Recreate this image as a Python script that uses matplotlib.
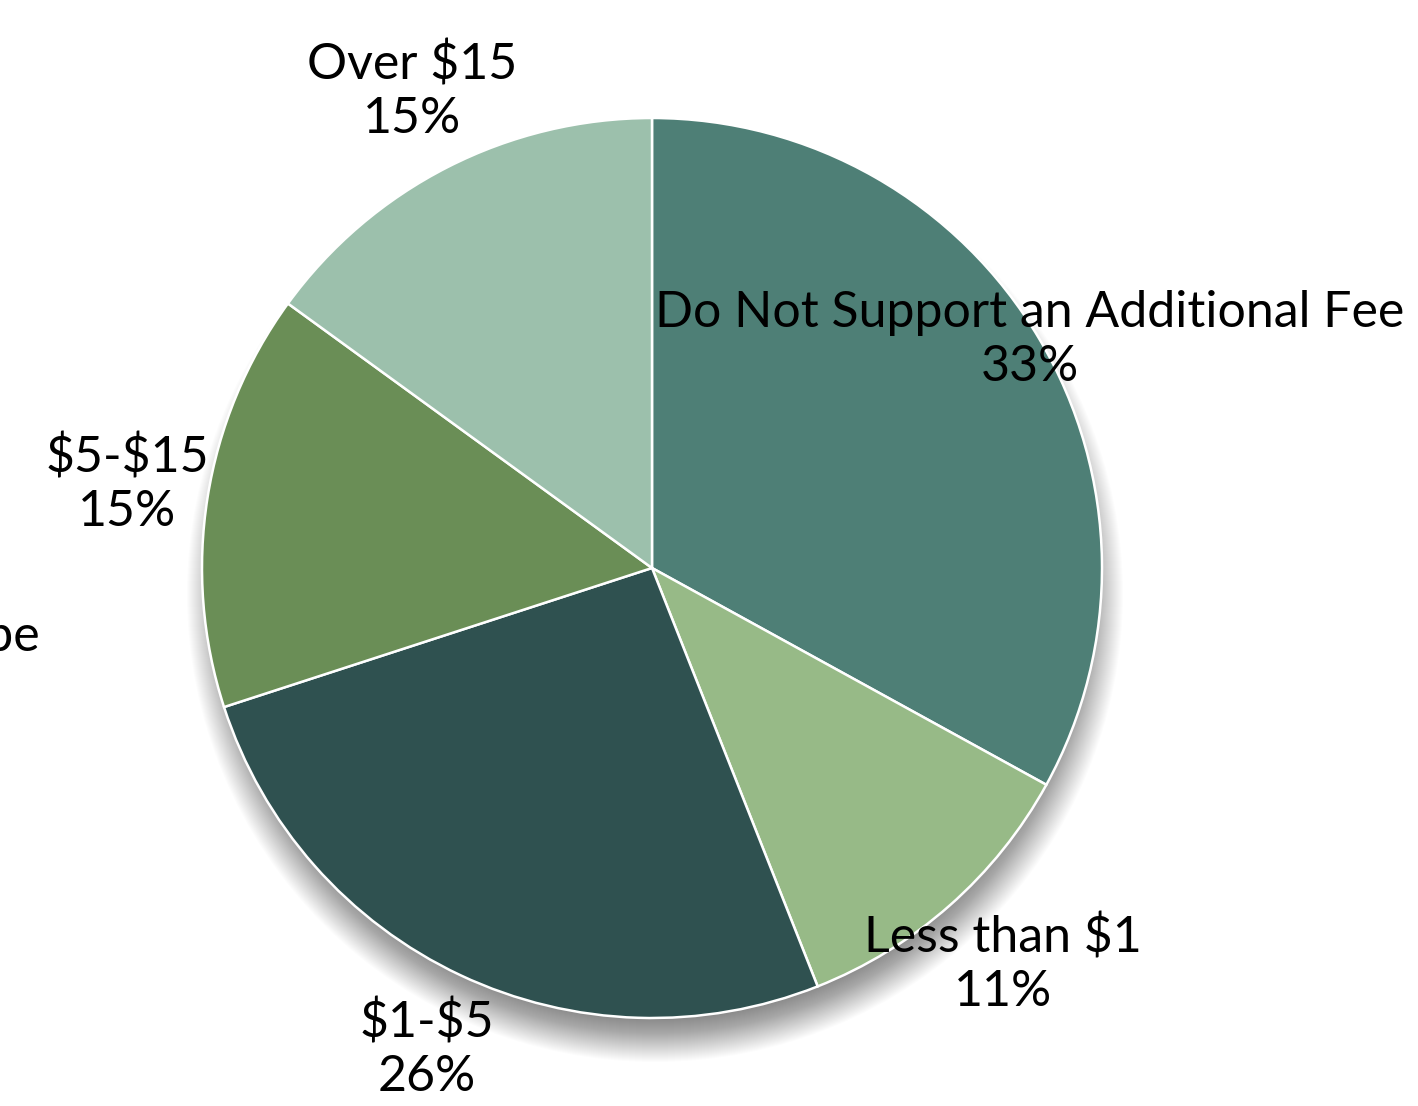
import matplotlib
matplotlib.use("Agg")
import matplotlib.pyplot as plt
from matplotlib.patches import Circle

labels = ["Do Not Support an Additional Fee", "Less than $1", "$1-$5", "$5-$15", "Over $15"]
values = [33, 11, 26, 15, 15]
colors = ["#4E7F76", "#97BA87", "#2F5150", "#6A8E56", "#9CC0AC"]

# label centres in pixel coordinates (y from top)
label_pos = [(1030, 340), (1003, 965), (427, 1050), (127, 485), (412, 92)]

W, H = 1418, 1106
fig = plt.figure(figsize=(W / 100, H / 100), dpi=100)
ax = fig.add_axes([0, 0, 1, 1])

cx, cy, r = 652, H - 568, 450

# soft drop shadow, mostly below the pie
for k in range(50):
    rr = r + 18 - k
    ax.add_patch(Circle((cx + 3, cy - 26), rr, color="black", alpha=0.011, lw=0, zorder=0))

ax.pie(values, colors=colors, startangle=90, counterclock=False,
       center=(cx, cy), radius=r,
       wedgeprops=dict(edgecolor="white", linewidth=1.8))

plt.rcParams["font.family"] = ["Lato", "DejaVu Sans"]
for lab, v, (px, py) in zip(labels, values, label_pos):
    txt = lab.replace("$", r"\$")
    ax.text(px, H - py, f"{txt}\n{v}%", ha="center", va="center",
            fontsize=36, linespacing=1.2, color="black")

ax.text(40, H - 637, "Type", ha="right", va="center", fontsize=36)

ax.set_xlim(0, W)
ax.set_ylim(0, H)
ax.set_aspect("equal")
ax.axis("off")
fig.savefig("out.png", dpi=100)
